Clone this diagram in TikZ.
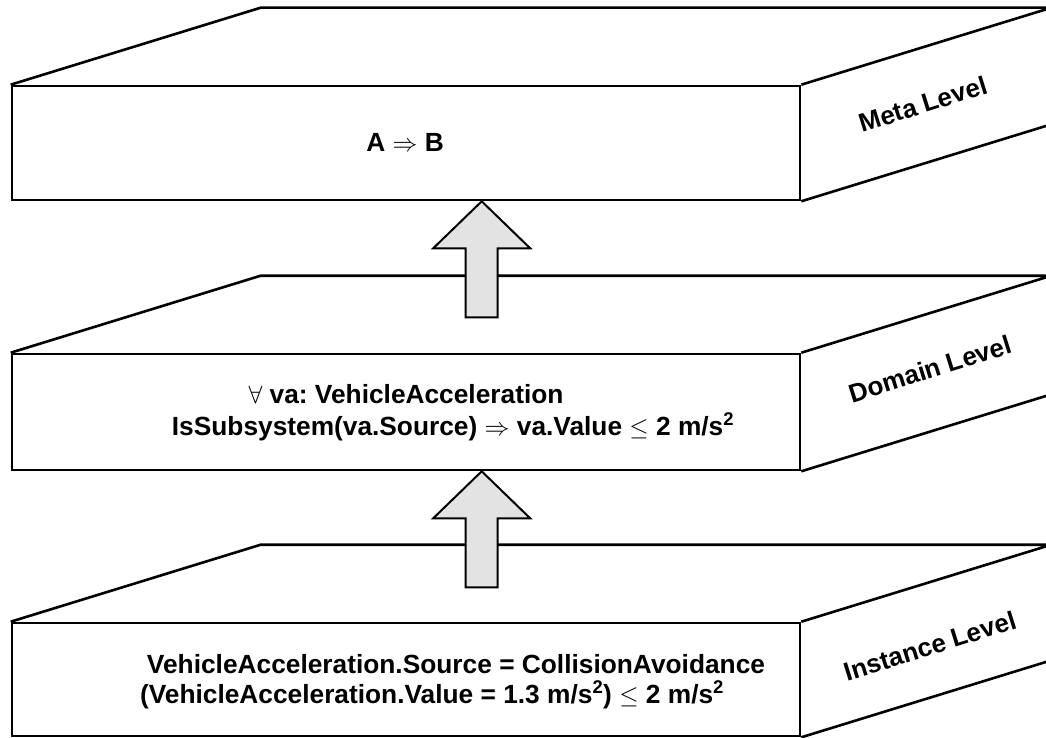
\documentclass[tikz,border=0pt]{standalone}
\usepackage{fontspec}
\setmainfont{Liberation Sans}
\usetikzlibrary{calc}
\definecolor{arrowfill}{HTML}{E3E3E3}
\frenchspacing
\begin{document}
\begin{tikzpicture}[x=1pt,y=-1pt,
  edge/.style={line width=2.6pt, line join=miter},
  face/.style={edge, draw, fill=white, inner sep=0pt, minimum width=788pt},
  formula/.style={font=\fontsize{26.3}{30}\selectfont\bfseries, inner sep=0pt, anchor=base},
  levellabel/.style={font=\fontsize{26}{30}\selectfont\bfseries, inner sep=0pt, rotate=17.4},
  bigarrow/.style={draw, line width=2pt, fill=arrowfill, line join=miter}]
\useasboundingbox (0,0) rectangle (1046,738);

% front faces of the three slabs
\node[face, minimum height=114pt] (meta) at (406,143) {};
\node[face, minimum height=116pt] (domain) at (406,412) {};
\node[face, minimum height=113pt] (inst) at (406,679.5) {};

% top and side faces of each slab
\foreach \s in {meta,domain,inst}{
  \draw[edge] (\s.north west) -- ($(\s.north west)+(250,-77)$)
    -- ($(\s.north east)+(250,-77)$) -- (\s.north east);
  \draw[edge] ($(\s.north east)+(250,-77)$) -- ($(\s.south east)+(250,-77)$)
    -- (\s.south east);
}

% level names on the side faces
\node[levellabel] (metalabel) at (923,104) {Meta Level};
\node[levellabel] (domainlabel) at (930,369) {Domain Level};
\node[levellabel] (instlabel) at (930,646) {Instance Level};

% formulas on the front faces
\node[formula] (metaf) at (405,152) {A $\Rightarrow$ B};
\node[formula] (domf1) at (406,403) {$\forall$ va: VehicleAcceleration};
\node[formula] (domf2) at (453,435) {IsSubsystem(va.Source) $\Rightarrow$ va.Value $\leq$ 2 m/s\textsuperscript{2}};
\node[formula] (instf1) at (456,673) {VehicleAcceleration.Source = CollisionAvoidance};
\node[formula] (instf2) at (432,703) {(VehicleAcceleration.Value = 1.3 m/s\textsuperscript{2}) $\leq$ 2 m/s\textsuperscript{2}};

% block arrows between the levels
\coordinate (tipA) at ($(meta.south west)+(471,0)$);
\coordinate (tipB) at ($(domain.south west)+(471,0)$);
\foreach \t in {tipA,tipB}{
  \draw[bigarrow] (\t) -- ++(48.5,47) -- ++(-32.5,0) -- ++(0,69) -- ++(-32,0)
    -- ++(0,-69) -- ++(-32.5,0) -- cycle;
}
\end{tikzpicture}
\end{document}
